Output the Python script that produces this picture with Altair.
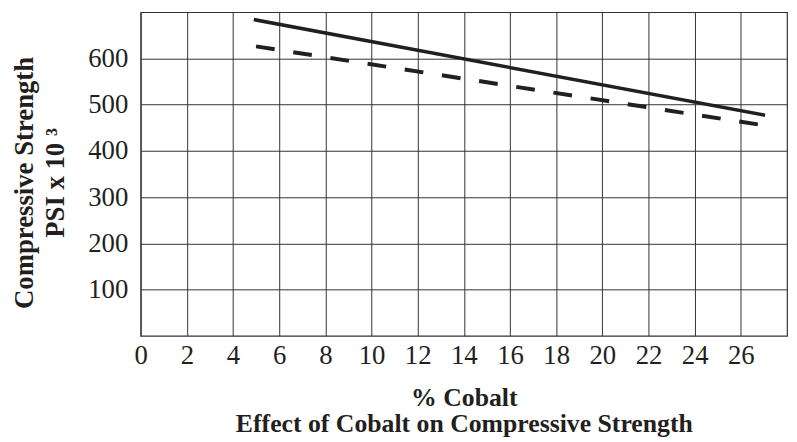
import altair as alt
import pandas as pd

# Data
series = ["Solid", "Solid", "Dashed", "Dashed"]
cobalt = [4.9, 27.05, 5.0, 26.9]
strength = [684, 477, 626, 456]

x_ticks = list(range(0, 27, 2))
y_ticks = [100, 200, 300, 400, 500, 600]

df = pd.DataFrame({"series": series, "cobalt": cobalt, "strength": strength})

FONT = "Liberation Serif"

x_enc = alt.X(
    "cobalt:Q",
    scale=alt.Scale(domain=[0, 28], nice=False, zero=False),
    axis=alt.Axis(
        values=x_ticks,
        title=["% Cobalt", "Effect of Cobalt on Compressive Strength"],
        titleFont=FONT, titleFontSize=26, titleFontWeight="bold",
        titleColor="#231f20", titleLineHeight=27, titlePadding=16,
        labelFont=FONT, labelFontSize=27, labelColor="#231f20",
        labelPadding=7, ticks=False, domain=False,
        grid=True, gridColor="#333333", gridWidth=1, gridOpacity=1,
        labelFlush=False,
    ),
)
y_enc = alt.Y(
    "strength:Q",
    scale=alt.Scale(domain=[0, 700], nice=False),
    axis=alt.Axis(
        values=y_ticks,
        title=["Compressive Strength", "PSI x 10 ³"],
        titleFont=FONT, titleFontSize=27, titleFontWeight="bold",
        titleColor="#231f20", titleLineHeight=32, titlePadding=18,
        titleY=172,
        labelFont=FONT, labelFontSize=27, labelColor="#231f20",
        labelPadding=13, ticks=False, domain=False,
        grid=True, gridColor="#333333", gridWidth=1, gridOpacity=1,
        labelFlush=False,
    ),
)

solid = alt.Chart(df).transform_filter(alt.datum.series == "Solid").mark_line(
    color="#231f20", strokeWidth=3.5, strokeCap="butt"
).encode(x=x_enc, y=y_enc)

dashed = alt.Chart(df).transform_filter(alt.datum.series == "Dashed").mark_line(
    color="#231f20", strokeWidth=4, strokeDash=[19, 19], strokeCap="butt"
).encode(x="cobalt:Q", y="strength:Q")

chart = alt.layer(solid, dashed).properties(
    width=653,
    height=327,
    autosize=alt.AutoSizeParams(type="none"),
    padding={"left": 134, "top": 2, "right": 2, "bottom": 104},
    background="white",
).configure_view(stroke="#333333", strokeWidth=1.2)

chart.save("out.html", embed_options={"renderer": "svg", "actions": False})
